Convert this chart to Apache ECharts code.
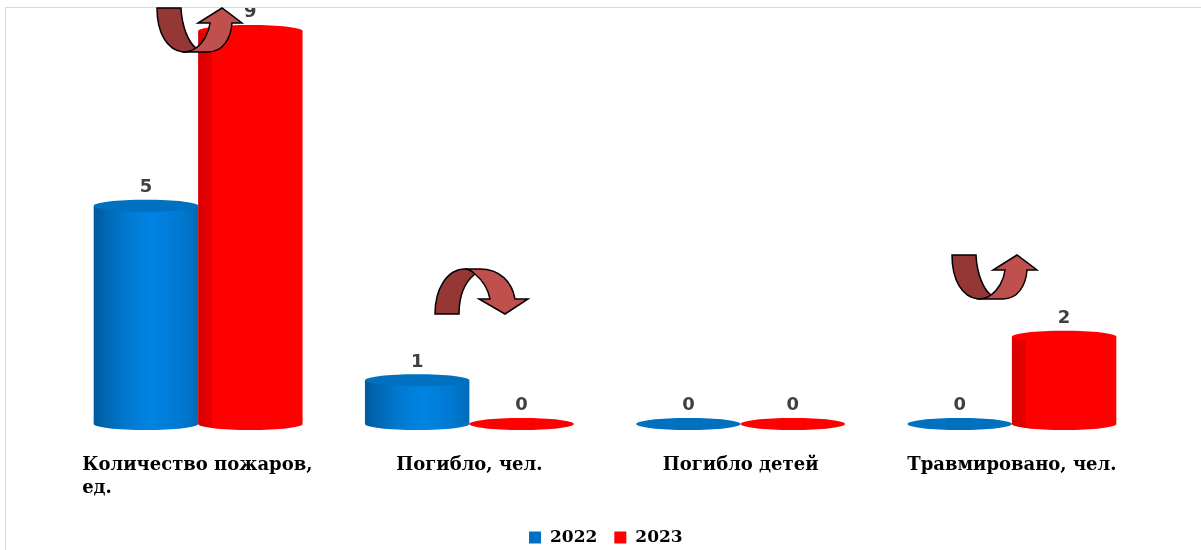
<!DOCTYPE html>
<html>
	<head>
		<meta charset="UTF-8">
		<title>Пожары 2022-2023</title>
		<style>
			html, body { margin: 0; padding: 0; background: #fff; }
			#myReport { width: 1201px; height: 550px; }
		</style>
		<script src="https://cdn.jsdelivr.net/npm/echarts@6/dist/echarts.min.js"></script>
	</head>
	<body>
		<div id="myReport"></div>
		<script type="text/javascript">
			var categories = ['Количество пожаров,\nед.', 'Погибло, чел.', 'Погибло детей', 'Травмировано, чел.'];
			var values2022 = [5, 1, 0, 0];
			var values2023 = [9, 0, 0, 2];

			// цилиндр: прямоугольник + нижний и верхний эллипсы
			function cylinder(side, body, top) {
				return function(params, api) {
					var band = api.size([1, 0])[0];
					var w = band * 0.385;
					var rx = w / 2;
					var ry = 6;
					var p = api.coord([api.value(0), api.value(1)]);
					var base = api.coord([api.value(0), 0]);
					var cx = p[0] + side * rx;
					var children = [];
					if (p[1] < base[1]) {
						children.push({
							type: 'ellipse',
							shape: { cx: cx, cy: base[1], rx: rx, ry: ry },
							style: { fill: body }
						});
						children.push({
							type: 'rect',
							shape: { x: cx - rx, y: p[1], width: w, height: base[1] - p[1] },
							style: { fill: body }
						});
					}
					children.push({
						type: 'ellipse',
						shape: { cx: cx, cy: p[1], rx: rx, ry: ry },
						style: { fill: top }
					});
					children.push({
						type: 'text',
						style: {
							x: cx,
							y: p[1] - 18.5,
							text: String(api.value(1)),
							align: 'center',
							verticalAlign: 'middle',
							fontFamily: 'DejaVu Sans',
							fontWeight: 'bold',
							fontSize: 18,
							fill: '#404040'
						}
					});
					return { type: 'group', children: children };
				};
			}

			function hGradient(stops) {
				return new echarts.graphic.LinearGradient(0, 0, 1, 0, stops);
			}

			var blueBody = hGradient([
				{ offset: 0, color: '#00599C' },
				{ offset: 0.12, color: '#0068B4' },
				{ offset: 0.3, color: '#0078CE' },
				{ offset: 0.55, color: '#0084E4' },
				{ offset: 0.85, color: '#0078D0' },
				{ offset: 1, color: '#006BB8' }
			]);
			var redBody = hGradient([
				{ offset: 0, color: '#D80000' },
				{ offset: 0.13, color: '#E60000' },
				{ offset: 0.135, color: '#FF0000' },
				{ offset: 1, color: '#FF0000' }
			]);

			function seriesFor(name, data, side, color, body) {
				return {
					name: name,
					type: 'custom',
					clip: false,
					z: 2,
					itemStyle: { color: color },
					encode: { x: 0, y: 1 },
					data: data.map(function(v, i) { return [i, v]; }),
					renderItem: cylinder(side, body, color)
				};
			}

			// стрелки-аннотации, контуры от верхнего левого угла
			var arrowUp = {
				dark: 'M0,0 L24,0 C25,20 32,35 39,40 C35,43 30,44 26,44 C10,42 0,25 0,0 Z',
				light: 'M26,44 L51,44 C66,44 74,30 75,15 L85,15 L65,0 L41,15 L53,15 C52,25 46,35 39,40 C35,43 30,44 26,44 Z'
			};
			var arrowDown = {
				dark: 'M0,45 L24,45 C24,26 30,13 40,5 C37,2 33,0 30,0 C12,0 0,20 0,45 Z',
				light: 'M30,0 L45,0 C65,0 77,13 80,30 L93,30 L70,45 L44,30 L55,30 C53,19 47,11 40,5 C37,2 33,0 30,0 Z'
			};
			var arrowShapes = [arrowUp, arrowDown, arrowUp];
			var arrowLeft = [157, 435, 952];
			var arrowTop = [8, 269, 255];

			function pathEl(d, fill) {
				var r = echarts.graphic.makePath(d).getBoundingRect();
				return {
					type: 'path',
					shape: { pathData: d, layout: 'cover', x: r.x, y: r.y, width: r.width, height: r.height },
					style: { fill: fill, stroke: '#000', lineWidth: 1.5 }
				};
			}

			function renderArrow(params, api) {
				var i = params.dataIndex;
				return {
					type: 'group',
					x: arrowLeft[i],
					y: arrowTop[i],
					children: [
						pathEl(arrowShapes[i].dark, '#953735'),
						pathEl(arrowShapes[i].light, '#C0504D')
					]
				};
			}

			var myChart = echarts.init(document.getElementById('myReport'));

			var option = {
				animation: false,
				backgroundColor: '#fff',
				grid: { left: 62.5, right: 53.5, top: 31, bottom: 126 },
				legend: {
					left: 524,
					top: 524,
					icon: 'rect',
					itemWidth: 12,
					itemHeight: 12,
					itemGap: 17,
					textStyle: {
						fontFamily: 'DejaVu Serif',
						fontWeight: 'bold',
						fontSize: 17,
						color: '#000',
						padding: [0, 0, 0, 4]
					},
					data: ['2022', '2023']
				},
				xAxis: {
					type: 'category',
					data: categories,
					axisLine: { show: false },
					axisTick: { show: false },
					axisLabel: {
						interval: 0,
						margin: 30,
						fontFamily: 'DejaVu Serif',
						fontWeight: 'bold',
						fontSize: 18,
						color: '#000',
						lineHeight: 23,
						formatter: function(value) {
							if (value.indexOf('\n') < 0) {
								return value;
							}
							return value.split('\n').map(function(line) {
								return '{left|' + line + '}';
							}).join('\n');
						},
						rich: {
							left: {
								width: 232,
								align: 'left',
								fontFamily: 'DejaVu Serif',
								fontWeight: 'bold',
								fontSize: 18,
								lineHeight: 23,
								color: '#000'
							}
						}
					}
				},
				yAxis: {
					type: 'value',
					min: 0,
					max: 9,
					show: false
				},
				graphic: [
					{ type: 'rect', z: 40, shape: { x: 0, y: 0, width: 1201, height: 7 }, style: { fill: '#fff' } },
					{ type: 'rect', z: 41, shape: { x: 5, y: 7, width: 1196, height: 1 }, style: { fill: '#D9D9D9' } },
					{ type: 'rect', z: 41, shape: { x: 5, y: 7, width: 1, height: 543 }, style: { fill: '#D9D9D9' } }
				],
				series: [
					seriesFor('2022', values2022, -1, '#0070C0', blueBody),
					seriesFor('2023', values2023, 1, '#FF0000', redBody),
					{
						type: 'custom',
						coordinateSystem: 'none',
						z: 50,
						silent: true,
						data: arrowLeft.map(function(x, i) { return [i]; }),
						renderItem: renderArrow
					}
				]
			};
			myChart.setOption(option);
		</script>
	</body>
</html>
